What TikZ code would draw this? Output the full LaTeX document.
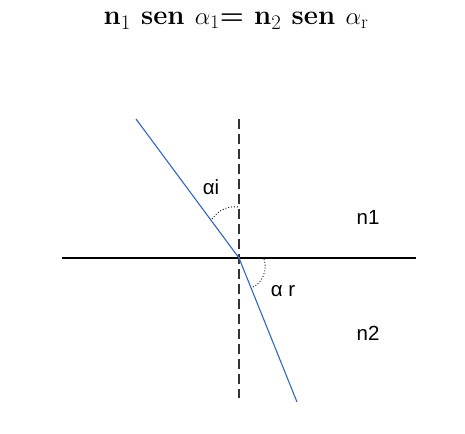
\documentclass[tikz,border=0pt]{standalone}
\usepackage{fontspec}
\newfontfamily\labelfont{Liberation Sans}
\definecolor{raycol}{RGB}{48,102,192}
\tikzset{
  ray/.style={draw=raycol, line width=1.1pt},
  surface/.style={draw=black, line width=1.1pt},
  normalline/.style={draw=black!80, line width=1.6pt, dash pattern=on 10pt off 5pt},
  anglearc/.style={draw=black, line width=0.9pt, dotted},
  lbl/.style={font=\labelfont\fontsize{20.5}{24}\selectfont, inner sep=0pt}
}
\begin{document}
\begin{tikzpicture}[x=1pt,y=-1pt]
\useasboundingbox (0,0) rectangle (465,433);
\coordinate (O) at (239,258);
\coordinate (L) at (62,258);
\coordinate (R) at (416,258);
\coordinate (T) at (239,119);
\coordinate (Bt) at (239,398);
\coordinate (A) at (136,119);
\coordinate (B) at (297,402);
\draw[surface] (L) -- (R);
\draw[normalline] (T) -- (Bt);
\draw[ray] (A) -- (O) -- (B);
\coordinate (ai1) at (212,219);
\coordinate (ai2) at (239,207);
\draw[anglearc] (ai1) .. controls (220,208) and (230,206) .. (ai2);
\coordinate (ar1) at (264,259);
\coordinate (ar2) at (253,287);
\draw[anglearc] (ar1) .. controls (268,270) and (262,283) .. (ar2);
\node[lbl] (lai) at (211,187) {αi};
\node[lbl] (lar) at (283,291) {α r};
\node[lbl] (ln1) at (368,217) {n1};
\node[lbl] (ln2) at (368,333) {n2};
\node[inner sep=0pt, font=\fontsize{27.5}{30}\selectfont\bfseries] (eq) at (236,21) {n$_1$ sen $\alpha_{\rm 1}$= n$_2$ sen $\alpha_{\rm r}$};
\end{tikzpicture}
\end{document}
